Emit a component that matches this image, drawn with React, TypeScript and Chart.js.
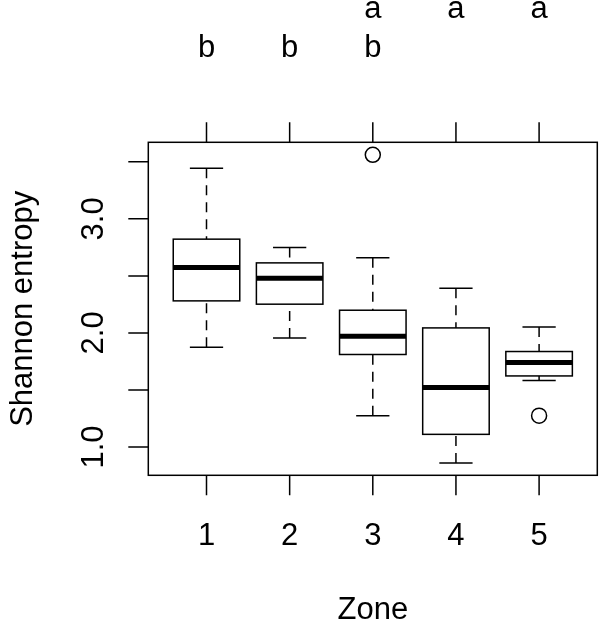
import React, { useEffect, useRef } from "react";
import { Chart, registerables } from "chart.js";

Chart.register(...registerables);

const zones = ["1", "2", "3", "4", "5"];
const whiskerLow = [1.875, 1.956, 1.275, 0.86, 1.582];
const q1 = [2.281, 2.252, 1.811, 1.111, 1.623];
const medians = [2.574, 2.48, 1.971, 1.521, 1.74];
const q3 = [2.822, 2.614, 2.199, 2.044, 1.837];
const whiskerHigh = [3.444, 2.749, 2.658, 2.392, 2.053];
const outlierZone = [3, 5];
const outlierValue = [3.561, 1.275];
const yTickValues = [1, 1.5, 2, 2.5, 3, 3.5];
const yLabelValues = [1, 2, 3];
const yLabelTexts = ["1.0", "2.0", "3.0"];
const lettersTop = ["", "", "a", "a", "a"];
const lettersBottom = ["b", "b", "b", "", ""];
const xTitle = "Zone";
const yTitle = "Shannon entropy";

const FONT = '31px "Liberation Sans", Arial, sans-serif';

const boxPlugin = {
  id: "boxes",
  beforeDatasetsDraw(chart: any) {
    const { ctx, scales } = chart;
    const x = scales.x;
    const y = scales.y;
    ctx.save();
    ctx.strokeStyle = "#000";
    ctx.lineCap = "butt";
    zones.forEach((_, i) => {
      const v = i + 1;
      const cx = x.getPixelForValue(v);
      const hw = x.getPixelForValue(v + 0.4) - cx;
      const cw = x.getPixelForValue(v + 0.2) - cx;
      const yq1 = y.getPixelForValue(q1[i]);
      const yq3 = y.getPixelForValue(q3[i]);
      const ylo = y.getPixelForValue(whiskerLow[i]);
      const yhi = y.getPixelForValue(whiskerHigh[i]);
      const ymed = y.getPixelForValue(medians[i]);
      ctx.lineWidth = 1.5;
      ctx.setLineDash([10, 7]);
      ctx.beginPath();
      ctx.moveTo(cx, yhi);
      ctx.lineTo(cx, yq3);
      ctx.moveTo(cx, ylo);
      ctx.lineTo(cx, yq1);
      ctx.stroke();
      ctx.setLineDash([]);
      ctx.beginPath();
      ctx.moveTo(cx - cw, yhi);
      ctx.lineTo(cx + cw, yhi);
      ctx.moveTo(cx - cw, ylo);
      ctx.lineTo(cx + cw, ylo);
      ctx.stroke();
      ctx.fillStyle = "#fff";
      ctx.fillRect(cx - hw, yq3, 2 * hw, yq1 - yq3);
      ctx.strokeRect(cx - hw, yq3, 2 * hw, yq1 - yq3);
      ctx.lineWidth = 5;
      ctx.beginPath();
      ctx.moveTo(cx - hw, ymed);
      ctx.lineTo(cx + hw, ymed);
      ctx.stroke();
    });
    ctx.restore();
  },
};

const axesPlugin = {
  id: "baseAxes",
  afterDraw(chart: any) {
    const { ctx, scales, chartArea } = chart;
    const x = scales.x;
    const y = scales.y;
    const { left, right, top, bottom } = chartArea;
    ctx.save();
    ctx.strokeStyle = "#000";
    ctx.fillStyle = "#000";
    ctx.lineWidth = 1.5;
    ctx.strokeRect(left, top, right - left, bottom - top);
    ctx.beginPath();
    zones.forEach((_, i) => {
      const px = x.getPixelForValue(i + 1);
      ctx.moveTo(px, bottom);
      ctx.lineTo(px, bottom + 20);
      ctx.moveTo(px, top);
      ctx.lineTo(px, top - 20);
    });
    yTickValues.forEach((v) => {
      const py = y.getPixelForValue(v);
      ctx.moveTo(left, py);
      ctx.lineTo(left - 20, py);
    });
    ctx.stroke();

    ctx.font = FONT;
    ctx.textAlign = "center";
    ctx.textBaseline = "alphabetic";
    zones.forEach((z, i) => {
      const px = x.getPixelForValue(i + 1);
      ctx.fillText(z, px, 545);
      if (lettersTop[i]) ctx.fillText(lettersTop[i], px, 18);
      if (lettersBottom[i]) ctx.fillText(lettersBottom[i], px, 57);
    });
    ctx.fillText(xTitle, (left + right) / 2, 619);

    yLabelValues.forEach((v, i) => {
      const py = y.getPixelForValue(v);
      ctx.save();
      ctx.translate(103, py);
      ctx.rotate(-Math.PI / 2);
      ctx.fillText(yLabelTexts[i], 0, 0);
      ctx.restore();
    });
    ctx.save();
    ctx.translate(31.5, (top + bottom) / 2);
    ctx.rotate(-Math.PI / 2);
    ctx.fillText(yTitle, 0, 0);
    ctx.restore();
    ctx.restore();
  },
};

export default function App() {
  const ref = useRef<HTMLCanvasElement | null>(null);
  useEffect(() => {
    if (!ref.current) return;
    const chart = new Chart(ref.current, {
      type: "scatter",
      data: {
        datasets: [
          {
            data: outlierZone.map((z, i) => ({ x: z, y: outlierValue[i] })),
            pointRadius: 7.5,
            pointBorderWidth: 1.5,
            pointBorderColor: "#000",
            pointBackgroundColor: "rgba(255,255,255,0)",
            pointHoverRadius: 7.5,
          },
        ],
      },
      options: {
        animation: false,
        responsive: false,
        devicePixelRatio: 1,
        layout: {
          autoPadding: false,
          padding: { left: 148.3, right: 2.7, top: 142.3, bottom: 149.7 },
        },
        scales: {
          x: { type: "linear", min: 0.3, max: 5.7, display: false },
          y: { type: "linear", min: 0.752, max: 3.671, display: false },
        },
        plugins: { legend: { display: false }, tooltip: { enabled: false } },
      },
      plugins: [boxPlugin, axesPlugin],
    });
    return () => chart.destroy();
  }, []);
  return (
    <div style={{ position: "fixed", left: 0, top: 0, width: 600, height: 625, background: "#fff" }}>
      <canvas ref={ref} width={600} height={625} style={{ width: 600, height: 625 }} />
    </div>
  );
}
